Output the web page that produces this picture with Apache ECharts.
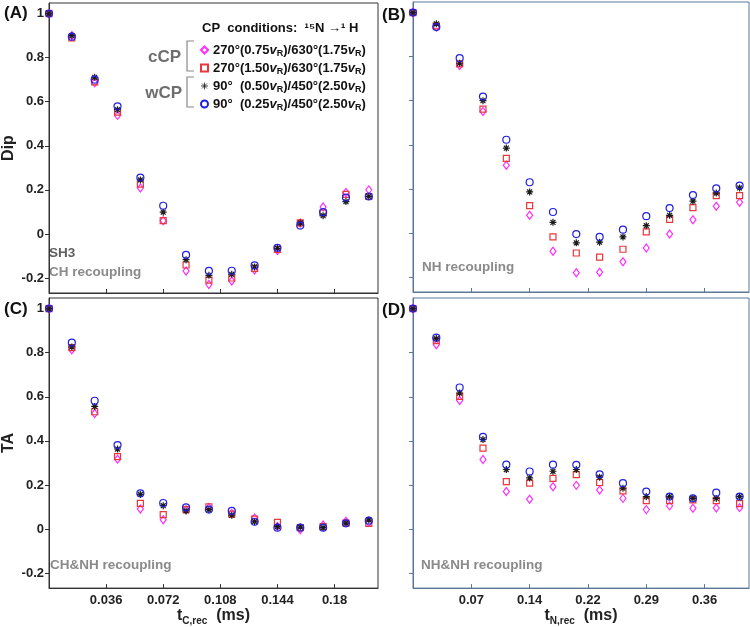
<!DOCTYPE html>
<html>
<head>
<meta charset="utf-8">
<script src="https://cdn.jsdelivr.net/npm/echarts@6/dist/echarts.min.js"></script>
<style>
  html, body { margin: 0; padding: 0; background: #fff; }
  #main { width: 750px; height: 627px; }
</style>
</head>
<body>
<div id="main"></div>
<script>
// recoupling times (ms)
var tC = [0, 0.0144, 0.0288, 0.0432, 0.0576, 0.072, 0.0864, 0.1008, 0.1152, 0.1296, 0.144, 0.1584, 0.1728, 0.1872, 0.2016];
var tN = [0, 0.0288, 0.0576, 0.0864, 0.1152, 0.144, 0.1728, 0.2016, 0.2304, 0.2592, 0.288, 0.3168, 0.3456, 0.3744, 0.4032];

// (A) Dip, CH recoupling
var dipCH_m = [1, 0.90, 0.686, 0.538, 0.208, 0.06, -0.168, -0.229, -0.214, -0.164, -0.075, 0.05, 0.122, 0.188, 0.20];
var dipCH_r = [1, 0.89, 0.69, 0.553, 0.226, 0.06, -0.141, -0.21, -0.20, -0.156, -0.07, 0.05, 0.095, 0.18, 0.17];
var dipCH_k = [1, 0.90, 0.711, 0.564, 0.245, 0.099, -0.117, -0.188, -0.183, -0.15, -0.066, 0.05, 0.083, 0.147, 0.17];
var dipCH_b = [1, 0.895, 0.70, 0.579, 0.256, 0.128, -0.095, -0.168, -0.167, -0.143, -0.063, 0.038, 0.099, 0.165, 0.17];

// (B) Dip, NH recoupling
var dipNH_m = [1, 0.935, 0.76, 0.551, 0.307, 0.08, -0.083, -0.181, -0.178, -0.131, -0.068, -0.005, 0.06, 0.121, 0.139];
var dipNH_r = [1, 0.94, 0.767, 0.562, 0.338, 0.124, -0.018, -0.091, -0.11, -0.074, 0.005, 0.062, 0.115, 0.169, 0.169];
var dipNH_k = [1, 0.949, 0.77, 0.60, 0.385, 0.186, 0.048, -0.045, -0.042, -0.018, 0.033, 0.08, 0.144, 0.181, 0.204];
var dipNH_b = [1, 0.934, 0.793, 0.619, 0.423, 0.23, 0.095, -0.005, -0.018, 0.015, 0.076, 0.113, 0.172, 0.202, 0.215];

// (C) TA, CH&NH recoupling
var taCH_m = [1, 0.813, 0.524, 0.317, 0.091, 0.042, 0.088, 0.098, 0.071, 0.05, 0.011, -0.003, 0.018, 0.035, 0.03];
var taCH_r = [1, 0.823, 0.532, 0.328, 0.116, 0.065, 0.088, 0.101, 0.068, 0.045, 0.03, 0.006, 0.011, 0.027, 0.026];
var taCH_k = [1, 0.826, 0.556, 0.363, 0.157, 0.106, 0.082, 0.088, 0.063, 0.033, 0.011, 0.009, 0.006, 0.027, 0.041];
var taCH_b = [1, 0.846, 0.582, 0.381, 0.162, 0.118, 0.098, 0.088, 0.082, 0.033, 0.006, 0.006, 0.006, 0.026, 0.038];

// (D) TA, NH&NH recoupling
var taNH_m = [1, 0.836, 0.583, 0.315, 0.17, 0.135, 0.192, 0.198, 0.177, 0.139, 0.088, 0.105, 0.094, 0.095, 0.097];
var taNH_r = [1, 0.855, 0.602, 0.367, 0.215, 0.208, 0.23, 0.247, 0.211, 0.173, 0.129, 0.129, 0.132, 0.129, 0.115];
var taNH_k = [1, 0.864, 0.617, 0.406, 0.27, 0.232, 0.262, 0.27, 0.235, 0.185, 0.147, 0.147, 0.139, 0.139, 0.147];
var taNH_b = [1, 0.868, 0.642, 0.418, 0.292, 0.261, 0.292, 0.291, 0.248, 0.208, 0.17, 0.147, 0.139, 0.165, 0.147];

// tick labels
var yTicks = [-0.2, 0, 0.2, 0.4, 0.6, 0.8, 1];
var xTicksC = [0.036, 0.072, 0.108, 0.144, 0.18];
var xTicksN = [0.072, 0.144, 0.216, 0.288, 0.36];

var names = [
  '270°(0.75vR)/630°(1.75vR)',
  '270°(1.50vR)/630°(1.75vR)',
  '90°  (0.50vR)/450°(2.50vR)',
  '90°  (0.25vR)/450°(2.50vR)'
];

var FONT = 'Liberation Sans, Arial, sans-serif';
var colors = ['#ff2bff', '#e8383a', '#1c1c1c', '#2020e0'];
var star = 'path://M5,0L5,10M0,5L10,5M1.5,1.5L8.5,8.5M1.5,8.5L8.5,1.5';
var symbols = ['diamond', 'rect', star, 'circle'];
var sizes = [[6, 8], 6, 7, 7];

var chartDom = document.getElementById('main');
var myChart = echarts.init(chartDom);

var panels = [
  { x: tC, ys: [dipCH_m, dipCH_r, dipCH_k, dipCH_b], grid: { left: 43, top: 3, width: 335, height: 290 }, frame: '#333', xt: xTicksC, xlab: false, ylab: true },
  { x: tN, ys: [dipNH_m, dipNH_r, dipNH_k, dipNH_b], grid: { left: 413, top: 2, width: 336, height: 290 }, frame: '#5a7896', xt: xTicksN, xlab: false, ylab: false },
  { x: tC, ys: [taCH_m, taCH_r, taCH_k, taCH_b], grid: { left: 43, top: 298, width: 335, height: 292 }, frame: '#333', xt: xTicksC, xlab: true, ylab: true },
  { x: tN, ys: [taNH_m, taNH_r, taNH_k, taNH_b], grid: { left: 413, top: 298, width: 336, height: 292 }, frame: '#5a7896', xt: xTicksN, xlab: true, ylab: false }
];

var grids = [], xAxes = [], yAxes = [], series = [];
var xNames = ['', '', '{t|t}{s|C,rec}{t|  (ms)}', '{t|t}{s|N,rec}{t|  (ms)}'];
var yNames = ['Dip', '', 'TA', ''];

panels.forEach(function (p, k) {
  grids.push(Object.assign({ show: true, borderColor: p.frame, borderWidth: 1, backgroundColor: 'transparent' }, p.grid));
  xAxes.push({
    type: 'value', gridIndex: k,
    min: 0, max: p.x === tC ? 0.2074 : 0.4148,
    splitLine: { show: false },
    axisLine: { show: true, onZero: false, lineStyle: { color: p.frame, width: 1 } },
    axisTick: { show: true, inside: true, length: 4, customValues: p.xt, lineStyle: { color: p.frame } },
    axisLabel: {
      show: p.xlab, customValues: p.xt, margin: 6,
      fontFamily: FONT, fontWeight: 'bold', fontSize: 13, color: '#222',
      formatter: function (v) { return p.x === tC ? String(+v.toFixed(3)) : v.toFixed(2); }
    },
    name: xNames[k], nameLocation: 'middle', nameGap: 17,
    nameTextStyle: {
      rich: {
        t: { fontFamily: FONT, fontWeight: 'bold', fontSize: 16, color: '#222', lineHeight: 20 },
        s: { fontFamily: FONT, fontWeight: 'bold', fontSize: 10, color: '#222', lineHeight: 10, verticalAlign: 'bottom' }
      }
    }
  });
  yAxes.push({
    type: 'value', gridIndex: k,
    min: -0.268, max: 1.048,
    splitLine: { show: false },
    axisLine: { show: true, onZero: false, lineStyle: { color: p.frame, width: 1 } },
    axisTick: { show: true, inside: false, length: 4, customValues: yTicks, lineStyle: { color: p.frame } },
    axisLabel: {
      show: p.ylab, customValues: yTicks, margin: 5,
      fontFamily: FONT, fontWeight: 'bold', fontSize: 13, color: '#222',
      formatter: function (v) { return String(v); }
    },
    name: yNames[k], nameLocation: 'middle', nameGap: 32, nameRotate: 90,
    nameTextStyle: { fontFamily: FONT, fontWeight: 'bold', fontSize: 16, color: '#222' }
  });
  p.ys.forEach(function (ys, j) {
    series.push({
      name: names[j], type: 'scatter', xAxisIndex: k, yAxisIndex: k,
      symbol: symbols[j], symbolSize: sizes[j],
      itemStyle: { color: j === 2 ? colors[j] : 'transparent', borderColor: colors[j], borderWidth: 1.2, opacity: 1 },
      clip: false,
      data: p.x.map(function (x, i) { return [x, ys[i]]; })
    });
  });
});

var gray = '#6e6e6e';
function txt(x, y, text, size, color, align) {
  return { type: 'text', x: x, y: y, style: { text: text, fill: color, font: 'bold ' + size + 'px ' + FONT, align: align || 'left', verticalAlign: 'middle' } };
}
function bracket(y0, y1) {
  return { type: 'polyline', shape: { points: [[194, y0], [187, y0], [187, y1], [194, y1]] }, style: { stroke: '#888', lineWidth: 1.2, fill: null } };
}

var legendData = names.map(function (n, j) {
  return j === 2 ? { name: n, itemStyle: { borderWidth: 0.8 } } : { name: n };
});

var option = {
  animation: false,
  grid: grids,
  xAxis: xAxes,
  yAxis: yAxes,
  legend: {
    left: 195, top: 37, orient: 'vertical',
    itemWidth: 7, itemHeight: 7, itemGap: 2,
    selectedMode: false,
    data: legendData,
    formatter: function (n) { return n.replace(/vR/g, '{i|v}{s|R}'); },
    textStyle: {
      fontFamily: FONT, fontWeight: 'bold', fontSize: 13, color: '#111', lineHeight: 16,
      rich: {
        i: { fontFamily: FONT, fontWeight: 'bold', fontStyle: 'italic', fontSize: 13, color: '#111', lineHeight: 16 },
        s: { fontFamily: FONT, fontWeight: 'bold', fontSize: 9, color: '#111', lineHeight: 10, verticalAlign: 'bottom' }
      }
    }
  },
  graphic: [
    txt(202, 28, 'CP  conditions:  ¹⁵N →¹ H', 13, '#111'),
    txt(181, 57, 'cCP', 17, gray, 'right'),
    txt(182, 93, 'wCP', 17, gray, 'right'),
    bracket(41, 71),
    bracket(77, 107),
    txt(4, 13, '(A)', 17, '#111'),
    txt(382, 15, '(B)', 17, '#111'),
    txt(4, 309, '(C)', 17, '#111'),
    txt(382, 310, '(D)', 17, '#111'),
    txt(49, 253, 'SH3', 13.5, '#5e5e5e'),
    txt(49, 272, 'CH recoupling', 13.5, '#8a8a8a'),
    txt(422, 267, 'NH recoupling', 13.5, '#8a8a8a'),
    txt(50, 565, 'CH&NH recoupling', 13.5, '#8a8a8a'),
    txt(421, 565, 'NH&NH recoupling', 13.5, '#8a8a8a')
  ],
  series: series
};

option && myChart.setOption(option);
</script>
</body>
</html>
